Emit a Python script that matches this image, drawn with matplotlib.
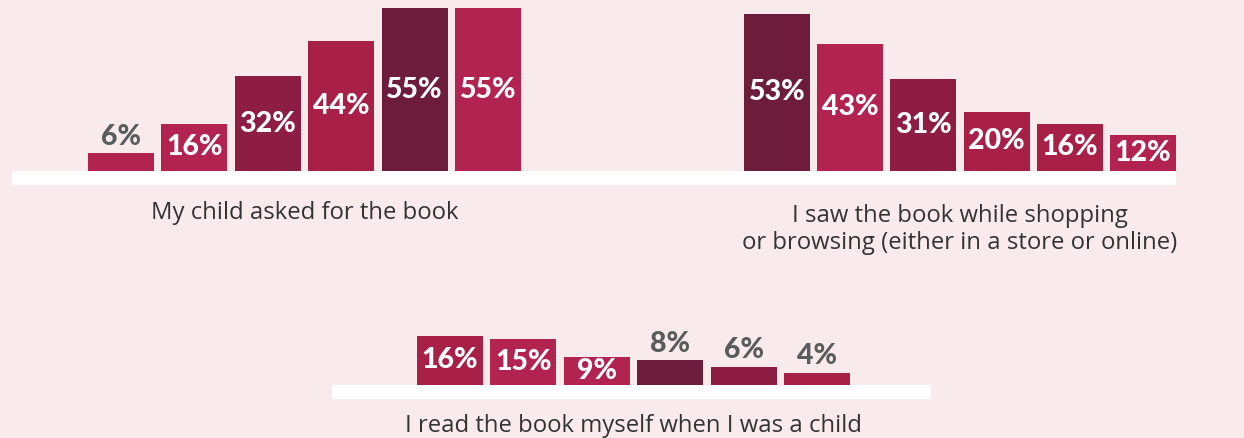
import matplotlib
matplotlib.use("Agg")
import matplotlib.pyplot as plt
from matplotlib.patches import Rectangle

# ---- data ----
titles = [
    "My child asked for the book",
    "I saw the book while shopping\nor browsing (either in a store or online)",
    "I read the book myself when I was a child",
]
values_p1 = [6, 16, 32, 44, 55, 55]
values_p2 = [53, 43, 31, 20, 16, 12]
values_p3 = [16, 15, 9, 8, 6, 4]

PINK, RED, MDARK, DARK = "#B3234F", "#A82048", "#8D1D42", "#6E1C3C"
colors_p1 = [PINK, PINK, MDARK, RED, DARK, PINK]
colors_p2 = [DARK, PINK, MDARK, RED, RED, PINK]
colors_p3 = [RED, PINK, PINK, DARK, MDARK, RED]

BG = "#F9EAEB"
GREY = "#5A5C5C"
TXT = "#333333"

W, H = 1244, 438
fig = plt.figure(figsize=(W / 100, H / 100), dpi=100)
fig.patch.set_facecolor(BG)

def px_rect(x0, y0_top, x1, y1_top):
    return [x0 / W, (H - y1_top) / H, (x1 - x0) / W, (y1_top - y0_top) / H]

# white baseline bands (figure coords)
fig.patches.append(Rectangle((12 / W, (H - 185) / H), (1176 - 12) / W, 14 / H,
                             transform=fig.transFigure, facecolor="white", edgecolor="none", zorder=0))
fig.patches.append(Rectangle((332 / W, (H - 399) / H), (931 - 332) / W, 14 / H,
                             transform=fig.transFigure, facecolor="white", edgecolor="none", zorder=0))

def panel(left, right, baseline, pxper, values, colors, title, title_y):
    ymax = 60
    top = baseline - ymax * pxper
    ax = fig.add_axes(px_rect(left, top, right, baseline))
    ax.set_facecolor("none")
    ax.set_xlim(-0.5, len(values) - 0.5)
    ax.set_ylim(0, ymax)
    ax.axis("off")
    xs = range(len(values))
    ax.bar(xs, values, width=0.9, color=colors, zorder=2)
    for x, v in zip(xs, values):
        if v >= 9:
            ax.text(x, v / 2, f"{v}%", ha="center", va="center", color="white",
                    fontsize=20.5, fontweight="black", family="Lato", zorder=3)
        else:
            ax.annotate(f"{v}%", (x, v), xytext=(0, 6), textcoords="offset points",
                        ha="center", va="baseline", color=GREY,
                        fontsize=20.5, fontweight="black", family="Lato", zorder=3)
    fig.text((left + right) / 2 / W, (H - title_y) / H, title, ha="center", va="center",
             color=TXT, fontsize=17.2, family="Open Sans", linespacing=1.18)
    return ax

panel(84.3, 524.7, 171, 2.963, values_p1, colors_p1, titles[0], 213)
panel(740.3, 1179.7, 171, 2.963, values_p2, colors_p2, titles[1], 229.5)
panel(413.3, 853.7, 385, 3.08, values_p3, colors_p3, titles[2], 426)

fig.savefig("out.png", dpi=100, facecolor=BG)
